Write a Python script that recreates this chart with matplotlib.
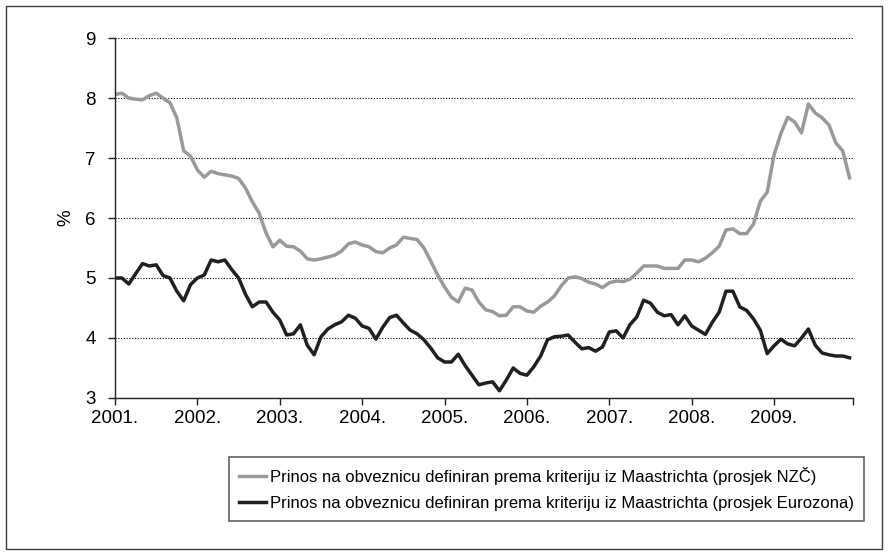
import numpy as np
import matplotlib
matplotlib.use('Agg')
import matplotlib.pyplot as plt
from matplotlib.patches import Rectangle

plt.rcParams['font.family'] = ['Liberation Sans', 'DejaVu Sans']

# mjesecni podaci, sijecanj 2001. - prosinac 2009.
years = ['2001.', '2002.', '2003.', '2004.', '2005.', '2006.', '2007.', '2008.', '2009.']

nzc = [8.06, 8.08, 8.00, 7.98, 7.97, 8.04, 8.08, 8.00, 7.92, 7.67, 7.12, 7.03,
       6.80, 6.68, 6.78, 6.74, 6.72, 6.70, 6.66, 6.50, 6.27, 6.08, 5.75, 5.52,
       5.63, 5.53, 5.52, 5.45, 5.32, 5.30, 5.32, 5.35, 5.38, 5.45, 5.57, 5.60,
       5.55, 5.52, 5.44, 5.42, 5.50, 5.55, 5.68, 5.66, 5.64, 5.50, 5.28, 5.05,
       4.85, 4.68, 4.60, 4.83, 4.80, 4.60, 4.47, 4.44, 4.37, 4.38, 4.52, 4.52,
       4.45, 4.43, 4.53, 4.60, 4.70, 4.87, 5.00, 5.02, 4.99, 4.93, 4.90, 4.84,
       4.92, 4.95, 4.94, 4.98, 5.08, 5.20, 5.20, 5.20, 5.16, 5.16, 5.16, 5.30,
       5.30, 5.27, 5.33, 5.42, 5.53, 5.80, 5.82, 5.74, 5.74, 5.90, 6.28, 6.43,
       7.05, 7.41, 7.68, 7.60, 7.42, 7.90, 7.75, 7.67, 7.55, 7.25, 7.12, 6.67]

euro = [5.00, 5.00, 4.90, 5.07, 5.24, 5.20, 5.22, 5.04, 5.00, 4.78, 4.62, 4.89,
        5.00, 5.05, 5.30, 5.27, 5.30, 5.14, 5.00, 4.73, 4.52, 4.60, 4.60, 4.43,
        4.30, 4.05, 4.07, 4.22, 3.88, 3.72, 4.02, 4.15, 4.22, 4.27, 4.38, 4.33,
        4.20, 4.16, 3.98, 4.18, 4.34, 4.38, 4.25, 4.13, 4.07, 3.97, 3.83, 3.67,
        3.60, 3.60, 3.73, 3.54, 3.38, 3.22, 3.25, 3.27, 3.12, 3.30, 3.50, 3.41,
        3.38, 3.52, 3.70, 3.97, 4.02, 4.03, 4.05, 3.93, 3.82, 3.84, 3.78, 3.85,
        4.10, 4.12, 4.00, 4.22, 4.35, 4.63, 4.58, 4.43, 4.37, 4.39, 4.22, 4.37,
        4.20, 4.13, 4.06, 4.26, 4.43, 4.78, 4.78, 4.52, 4.46, 4.32, 4.13, 3.74,
        3.87, 3.98, 3.90, 3.87, 4.00, 4.15, 3.88, 3.75, 3.72, 3.70, 3.70, 3.67]

lab_nzc = u'Prinos na obveznicu definiran prema kriteriju iz Maastrichta (prosjek NZČ)'
lab_euro = u'Prinos na obveznicu definiran prema kriteriju iz Maastrichta (prosjek Eurozona)'

x = np.arange(len(nzc))

fig = plt.figure(figsize=(8.89, 5.55), dpi=100)
ax = fig.add_axes([0.1294, 0.2829, 0.8301, 0.6486])

# okvir oko cijele slike
fig.patches.append(Rectangle((6/889., 6/555.), 876/889., 543/555., transform=fig.transFigure,
                             fill=False, edgecolor='#3a3a3a', linewidth=1.0))

ax.plot(x, nzc, color='#999999', linewidth=2.5, label=lab_nzc, solid_joinstyle='round')
ax.plot(x, euro, color='#231f20', linewidth=2.5, label=lab_euro, solid_joinstyle='round')

ax.set_ylim(3, 9)
ax.set_yticks(range(3, 10))
ax.set_xlim(0, 107.5)
ax.set_xticks(list(range(0, 108, 12)) + [107.5])
ax.set_xticklabels(years + [''])
ax.yaxis.grid(True, color='black', linestyle=(0, (1, 1.5)), linewidth=0.8)
ax.set_axisbelow(True)

for s in ['top', 'right']:
    ax.spines[s].set_visible(False)
for s in ['left', 'bottom']:
    ax.spines[s].set_color('#222222')
    ax.spines[s].set_linewidth(1.0)

ax.tick_params(axis='y', direction='out', length=5, width=1, color='#222222', pad=9, labelsize=13.5)
ax.tick_params(axis='x', direction='out', length=5, width=1, color='#222222', pad=4, labelsize=13.5)
ax.set_ylabel('%', fontsize=13.5, labelpad=8)

leg = fig.legend(loc='upper left', bbox_to_anchor=(229/889., 1 - 457/555.), ncol=1,
                 fontsize=12.0, frameon=True, fancybox=False, handlelength=1.6,
                 handletextpad=0.25, borderpad=0.6, labelspacing=0.65, borderaxespad=0)
leg.get_frame().set_edgecolor('#3a3a3a')
leg.get_frame().set_linewidth(1.2)

fig.savefig('out.png', dpi=100)
print('Done')
